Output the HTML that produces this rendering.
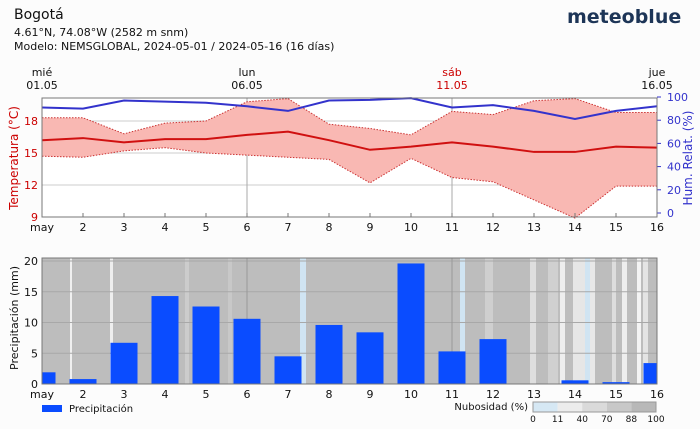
<!DOCTYPE html>
<html><head><meta charset="utf-8"><style>
body{margin:0;background:#fcfcfc;width:700px;height:425px;overflow:hidden;font-family:"DejaVu Sans","Liberation Sans",sans-serif;}
svg text{font-family:"DejaVu Sans","Liberation Sans",sans-serif;}
</style></head><body>
<svg id="c" width="700" height="425" xmlns="http://www.w3.org/2000/svg">
<text x="14" y="19" font-size="14" fill="#111">Bogotá</text>
<text x="14" y="36" font-size="11" fill="#111">4.61°N, 74.08°W (2582 m snm)</text>
<text x="14" y="50" font-size="11" fill="#111">Modelo: NEMSGLOBAL, 2024-05-01 / 2024-05-16 (16 días)</text>
<text x="567" y="23" font-size="19" font-weight="600" fill="#1d3557">meteoblue</text>
<g id="gtop"></g><g id="gbot"></g>
</svg>
<script>
const days=[1,2,3,4,5,6,7,8,9,10,11,12,13,14,15,16];
const dayLabels=["may","2","3","4","5","6","7","8","9","10","11","12","13","14","15","16"];
const tempMean=[16.2,16.4,16.0,16.3,16.3,16.7,17.0,16.2,15.3,15.6,16.0,15.6,15.1,15.1,15.6,15.5];
const tempMax=[18.3,18.3,16.8,17.8,18.0,19.8,20.1,17.7,17.3,16.7,18.9,18.6,19.9,20.1,18.8,18.8];
const tempMin=[14.7,14.6,15.2,15.5,15.0,14.8,14.6,14.4,12.2,14.5,12.7,12.3,10.6,8.9,11.9,11.9];
const humidity=[91,90,97,96,95,92,88,97,97.5,99,91,93,88,81,88,92];
const precip=[1.9,0.8,6.7,14.3,12.6,10.6,4.5,9.6,8.4,19.6,5.3,7.3,0,0.6,0.3,3.4];
const tempTicks=[9,12,15,18];
const humTicks=[0,20,40,60,80,100];
const precipTicks=[0,5,10,15,20];
const NS="http://www.w3.org/2000/svg";
const L=42,R=657;
const X=d=>L+(d-1)*(R-L)/15;
const YT=t=>217-(t-9)*32/3;
const YH=h=>213-h*1.16;
const YP=p=>384-p*6.15;
function mk(p,tag,a){const e=document.createElementNS(NS,tag);for(const k in a)e.setAttribute(k,a[k]);p.appendChild(e);return e;}
const gTop=document.getElementById('gtop'),gBot=document.getElementById('gbot');
let bg=mk(gTop,'rect',{x:L,y:98,width:R-L,height:119,fill:'#fff',stroke:'#777'});


tempTicks.forEach(t=>{let g=mk(gTop,'line',{x1:L,x2:R,y1:YT(t),y2:YT(t),stroke:'#ccc'});


let tx=mk(gTop,'text',{x:L-4,y:YT(t)+4,'text-anchor':'end','font-size':11,fill:'#c00'});tx.textContent=t;

});
[6,11].forEach(d=>{let v=mk(gTop,'line',{x1:X(d),x2:X(d),y1:98,y2:217,stroke:'#aaa'});

});
humTicks.forEach(h=>{let tx=mk(gTop,'text',{x:R+10,y:YH(h)+4,'font-size':11,fill:'#33c'});tx.textContent=h;


mk(gTop,'line',{x1:R,x2:R+4,y1:YH(h),y2:YH(h),stroke:'#33c'});});
let band='M'+days.map((d,i)=>X(d)+','+YT(tempMax[i])).join('L')+'L'+days.slice().reverse().map((d,j)=>X(d)+','+YT(tempMin[15-j])).join('L')+'Z';
let bp=mk(gTop,'path',{d:band,fill:'#f9b8b3'});


[tempMax,tempMin].forEach((arr,k)=>{let p=mk(gTop,'polyline',{points:days.map((d,i)=>X(d)+','+YT(arr[i])).join(' '),fill:'none',stroke:'#c33',"stroke-width":1,"stroke-dasharray":'1.5,1.5'});

});
let tm=mk(gTop,'polyline',{points:days.map((d,i)=>X(d)+','+YT(tempMean[i])).join(' '),fill:'none',stroke:'#d01010','stroke-width':2});


let hl=mk(gTop,'polyline',{points:days.map((d,i)=>X(d)+','+YH(humidity[i])).join(' '),fill:'none',stroke:'#3333cc','stroke-width':2});


mk(gTop,'rect',{x:L,y:98,width:R-L,height:119,fill:'none',stroke:'#777'});
days.forEach((d,i)=>{let t=mk(gTop,'text',{x:X(d),y:231,'text-anchor':'middle','font-size':11,fill:'#111'});t.textContent=dayLabels[i];


mk(gTop,'line',{x1:X(d),x2:X(d),y1:213,y2:217,stroke:'#777'});});
[[1,'mié','01.05','#111'],[6,'lun','06.05','#111'],[11,'sáb','11.05','#c00'],[16,'jue','16.05','#111']].forEach(a=>{
let t1=mk(gTop,'text',{x:X(a[0]),y:76,'text-anchor':'middle','font-size':11,fill:a[3]});t1.textContent=a[1];


let t2=mk(gTop,'text',{x:X(a[0]),y:89,'text-anchor':'middle','font-size':11,fill:a[3]});t2.textContent=a[2];

});
let yt=mk(gTop,'text',{transform:'translate(18,158) rotate(-90)','text-anchor':'middle','font-size':12,fill:'#c00'});yt.textContent='Temperatura (°C)';


let ht=mk(gTop,'text',{transform:'translate(692,158) rotate(-90)','text-anchor':'middle','font-size':12,fill:'#33c'});ht.textContent='Hum. Relat. (%)';


let cb=mk(gBot,'rect',{x:L,y:258,width:R-L,height:126,fill:'#bdbdbd'});


[[70,2,'#f0f0f0'],[110,3,'#eee'],[185,4,'#ccc'],[228,4,'#c8c8c8'],[300,6,'#d0e4f2'],[460,5,'#d0e4f2'],[485,8,'#cfcfcf'],[530,6,'#dedede'],[548,10,'#d0d0d0'],[560,5,'#eee'],[573,12,'#e6e6e6'],[585,5,'#d0e4f2'],[590,5,'#e8e8e8'],[612,4,'#ddd'],[622,5,'#eee'],[637,4,'#f4f4f4'],[643,5,'#e4e4e4']].forEach(s=>{
let r=mk(gBot,'rect',{x:s[0],y:258,width:s[1],height:126,fill:s[2]});

});
precipTicks.forEach(p=>{let g=mk(gBot,'line',{x1:L,x2:R,y1:YP(p),y2:YP(p),stroke:'#a8a8a8'});


let t=mk(gBot,'text',{x:L-4,y:YP(p)+4,'text-anchor':'end','font-size':11,fill:'#111'});t.textContent=p;

});
[6,11].forEach(d=>mk(gBot,'line',{x1:X(d),x2:X(d),y1:258,y2:384,stroke:'#999'}));
const bw=27;
days.forEach((d,i)=>{if(!precip[i])return;let x0=Math.max(L,X(d)-bw/2),x1=Math.min(R,X(d)+bw/2);
let b=mk(gBot,'rect',{x:x0,y:YP(precip[i]),width:x1-x0,height:384-YP(precip[i]),fill:'#0a4cff'});

});
mk(gBot,'rect',{x:L,y:258,width:R-L,height:126,fill:'none',stroke:'#777'});
days.forEach((d,i)=>{let t=mk(gBot,'text',{x:X(d),y:398,'text-anchor':'middle','font-size':11,fill:'#111'});t.textContent=dayLabels[i];

});
let pt=mk(gBot,'text',{transform:'translate(18,318) rotate(-90)','text-anchor':'middle','font-size':11,fill:'#111'});pt.textContent='Precipitación (mm)';


let ls=mk(gBot,'rect',{x:42,y:405,width:20,height:7,fill:'#0a4cff'});


let lt=mk(gBot,'text',{x:69,y:412,'font-size':10,fill:'#111'});lt.textContent='Precipitación';


let nt=mk(gBot,'text',{x:528,y:410,'text-anchor':'end','font-size':10,fill:'#111'});nt.textContent='Nubosidad (%)';


const cloudCols=['#d6e8f4','#ececec','#dadada','#c8c8c8','#b8b8b8'];
const cloudTicks=["0","11","40","70","88","100"];
cloudCols.forEach((c,i)=>{let r=mk(gBot,'rect',{x:533+i*24.6,y:402,width:24.6,height:10,fill:c});

});
mk(gBot,'rect',{x:533,y:402,width:123,height:10,fill:'none',stroke:'#999'});
cloudTicks.forEach((t,i)=>{let tx=mk(gBot,'text',{x:533+i*24.6,y:422,'text-anchor':'middle','font-size':9,fill:'#111'});tx.textContent=t;

});
</script>
</body></html>
